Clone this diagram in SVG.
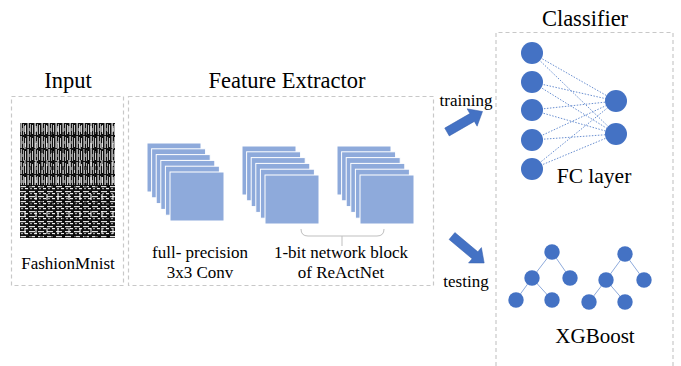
<svg xmlns="http://www.w3.org/2000/svg" width="681" height="366" viewBox="0 0 681 366">
<defs>
<style>
.t{font-family:"Liberation Serif","Times New Roman",serif;fill:#000}
.box{fill:none;stroke:#c8c8c8;stroke-width:1.2;stroke-dasharray:4 3}
.fm{fill:#8eaadb;stroke:#fff;stroke-width:1}
.n{fill:#4472c4}
.fc{stroke:#4472c4;stroke-width:0.8;stroke-dasharray:1.5 1.5;fill:none}
.te{stroke:#8eaadb;stroke-width:1;fill:none}
.ar{fill:#4472c4;stroke:#3a62ad;stroke-width:0.5}
</style>
<pattern id="vs" x="20" y="123" width="7" height="13" patternUnits="userSpaceOnUse">
<rect width="7" height="13" fill="#111"/>
<rect x="0.5" y="0" width="1.2" height="12" fill="#e8e8e8"/>
<rect x="3" y="1" width="1" height="11" fill="#aaa"/>
<rect x="5" y="2" width="1" height="9" fill="#ccc"/>
<rect x="2" y="5" width="1" height="3" fill="#777"/>
</pattern>
<pattern id="vs2" x="23" y="140" width="11" height="17" patternUnits="userSpaceOnUse">
<rect x="1" y="3" width="2" height="6" fill="#fff" opacity="0.5"/>
<rect x="6" y="9" width="3" height="4" fill="#000" opacity="0.5"/>
</pattern>
<pattern id="hs" x="20" y="185" width="9" height="5" patternUnits="userSpaceOnUse">
<rect width="9" height="5" fill="#111"/>
<rect x="0" y="1" width="6" height="1.2" fill="#e0e0e0"/>
<rect x="1" y="3" width="2" height="1.2" fill="#aaa"/>
<rect x="5" y="3" width="3" height="1.2" fill="#eee"/>
</pattern>
<g id="stack">
<rect class="fm" x="0" y="0" width="54" height="49"/>
<rect class="fm" x="4.6" y="5.8" width="54" height="49"/>
<rect class="fm" x="9.2" y="11.6" width="54" height="49"/>
<rect class="fm" x="13.8" y="17.4" width="54" height="49"/>
<rect class="fm" x="18.4" y="23.2" width="54" height="49"/>
<rect class="fm" x="23" y="29" width="54" height="49"/>
</g>
</defs>
<rect width="681" height="366" fill="#fff"/>

<g id="input">
<text class="t" x="68" y="88" font-size="22.5" text-anchor="middle">Input</text>
<rect class="box" x="11.5" y="96.5" width="112" height="189"/>
<rect x="20" y="123" width="95" height="62" fill="url(#vs)"/>
<rect x="20" y="123" width="95" height="62" fill="url(#vs2)"/>
<rect x="20" y="185" width="95" height="53" fill="url(#hs)"/>
<rect x="20" y="185" width="95" height="53" fill="url(#vs2)"/>
<text class="t" x="68" y="269" font-size="17" text-anchor="middle">FashionMnist</text>
</g>

<g id="feature-extractor">
<text class="t" x="287" y="88" font-size="22.5" text-anchor="middle">Feature Extractor</text>
<rect class="box" x="128.5" y="96.5" width="305" height="189"/>
<use href="#stack" x="147" y="143"/>
<use href="#stack" x="242" y="146"/>
<use href="#stack" x="337" y="146"/>
<path d="M301 229 Q301 236 308 236 L377 236 Q384 236 384 229 M342 236 L342 246" fill="none" stroke="#bfbfbf" stroke-width="1"/>
<text class="t" x="200" y="258" font-size="17" text-anchor="middle">full- precision</text>
<text class="t" x="200" y="278" font-size="17" text-anchor="middle">3x3 Conv</text>
<text class="t" x="341" y="258" font-size="17" text-anchor="middle">1-bit network block</text>
<text class="t" x="341" y="278" font-size="17" text-anchor="middle">of ReActNet</text>
</g>

<g id="connectors">
<text class="t" x="466" y="106" font-size="17" text-anchor="middle">training</text>
<polygon class="ar" transform="translate(447,132) rotate(-30)" points="0,-4.5 29,-4.5 29,-10 41,0 29,10 29,4.5 0,4.5"/>
<polygon class="ar" transform="translate(452,236) rotate(40)" points="0,-4.5 30,-4.5 30,-10 42,0 30,10 30,4.5 0,4.5"/>
<text class="t" x="466" y="287" font-size="17" text-anchor="middle">testing</text>
</g>

<g id="classifier">
<text class="t" x="585" y="26" font-size="22.5" text-anchor="middle">Classifier</text>
<path class="box" d="M496 366 L496 32.5 L673 32.5 L673 366"/>
</g>

<g id="fc-layer">
<g class="fc">
<path d="M532 53 L616 101 M532 53 L616 134 M532 82 L616 101 M532 82 L616 134 M532 110 L616 101 M532 110 L616 134 M532 140 L616 101 M532 140 L616 134 M532 169 L616 101 M532 169 L616 134"/>
</g>
<circle class="n" cx="532" cy="53" r="11"/>
<circle class="n" cx="532" cy="82" r="11"/>
<circle class="n" cx="532" cy="110" r="11"/>
<circle class="n" cx="532" cy="140" r="11"/>
<circle class="n" cx="532" cy="169" r="11"/>
<circle class="n" cx="616" cy="101" r="11"/>
<circle class="n" cx="616" cy="134" r="11"/>
<text class="t" x="594" y="183" font-size="21.5" text-anchor="middle">FC layer</text>
</g>

<g id="xgboost">
<path class="te" d="M552 252 L532 278 M552 252 L570 278 M532 278 L516 300 M532 278 L552 300 M625 254 L606 280 M625 254 L644 280 M606 280 L589 302 M606 280 L625 302"/>
<circle class="n" cx="552" cy="252" r="7.7"/>
<circle class="n" cx="532" cy="278" r="7.7"/>
<circle class="n" cx="570" cy="278" r="7.7"/>
<circle class="n" cx="516" cy="300" r="7.7"/>
<circle class="n" cx="552" cy="300" r="7.7"/>
<circle class="n" cx="625" cy="254" r="7.7"/>
<circle class="n" cx="606" cy="280" r="7.7"/>
<circle class="n" cx="644" cy="280" r="7.7"/>
<circle class="n" cx="589" cy="302" r="7.7"/>
<circle class="n" cx="625" cy="302" r="7.7"/>
<text class="t" x="595" y="343" font-size="21" text-anchor="middle">XGBoost</text>
</g>
</svg>
